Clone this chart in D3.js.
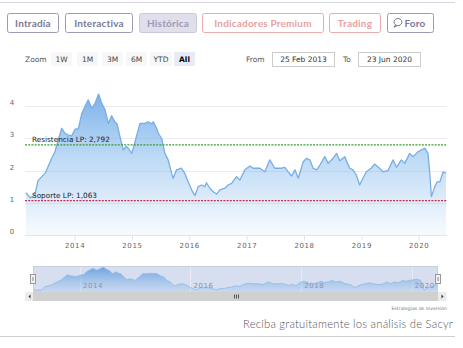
<!DOCTYPE html>
<html>
<head>
<meta charset="utf-8">
<script src="https://cdn.jsdelivr.net/npm/d3@7/dist/d3.min.js"></script>
<style>
  html, body { margin: 0; padding: 0; background: #fff; }
  svg { display: block; }
</style>
</head>
<body>
<svg id="chart" width="463" height="348"></svg>
<script>
// Sacyr closing prices (EUR), Feb 2013 – Jun 2020
const dates = [
  "2013-02-25","2013-03-24","2013-04-23","2013-05-13","2013-06-06","2013-06-27","2013-07-18","2013-08-08",
  "2013-08-29","2013-09-19","2013-10-11","2013-11-01","2013-11-22","2013-12-13","2014-01-04","2014-01-25",
  "2014-02-16","2014-03-08","2014-03-29","2014-04-20","2014-05-11","2014-06-03","2014-06-23","2014-07-14",
  "2014-08-04","2014-08-25","2014-09-15","2014-09-28","2014-10-17","2014-11-07","2014-11-24","2014-12-09",
  "2014-12-31","2015-01-21","2015-02-21","2015-03-25","2015-04-15","2015-05-07","2015-05-17","2015-06-08",
  "2015-06-18","2015-07-09","2015-07-30","2015-08-20","2015-09-11","2015-09-21","2015-10-12","2015-11-13",
  "2015-12-04","2015-12-25","2016-01-16","2016-02-06","2016-02-27","2016-03-19","2016-04-10","2016-04-20",
  "2016-05-11","2016-06-02","2016-06-23","2016-07-14","2016-08-15","2016-09-05","2016-09-27","2016-10-28",
  "2016-11-18","2016-12-20","2017-01-21","2017-02-11","2017-03-26","2017-04-27","2017-05-28","2017-06-29",
  "2017-08-11","2017-09-01","2017-09-22","2017-10-14","2017-11-04","2017-11-25","2017-12-27","2018-01-17",
  "2018-02-07","2018-02-28","2018-03-22","2018-04-12","2018-05-13","2018-06-04","2018-07-05","2018-07-27",
  "2018-08-17","2018-09-17","2018-10-19","2018-11-09","2018-11-30","2018-12-21","2019-01-11","2019-02-02",
  "2019-03-05","2019-03-26","2019-04-27","2019-05-19","2019-06-20","2019-07-22","2019-08-12","2019-09-13",
  "2019-10-04","2019-11-05","2019-11-26","2019-12-28","2020-01-18","2020-02-08","2020-02-19","2020-02-29",
  "2020-03-11","2020-03-22","2020-04-13","2020-04-28","2020-05-15","2020-06-05","2020-06-23"
];
const prices = [
  1.31,1.15,1.24,1.68,1.81,1.91,2.14,2.38,
  2.58,2.95,3.31,3.15,3.10,3.07,3.28,3.30,
  3.77,3.98,4.19,3.93,4.08,4.37,4.08,3.88,
  3.46,3.70,3.50,3.45,3.05,2.64,2.75,2.69,
  2.53,2.89,3.46,3.46,3.51,3.45,3.51,3.30,
  3.15,3.00,2.53,2.33,1.91,1.76,2.02,2.07,
  1.91,1.65,1.40,1.22,1.50,1.55,1.50,1.62,
  1.45,1.34,1.27,1.40,1.45,1.55,1.60,1.81,
  1.70,2.02,2.14,2.07,2.07,1.96,2.33,2.07,
  2.07,2.10,1.96,1.83,2.02,1.76,2.27,2.38,
  2.33,2.07,2.02,2.17,2.43,2.22,2.38,2.53,
  2.30,2.43,2.07,2.02,1.86,1.55,1.76,1.96,
  2.07,2.20,2.07,1.96,2.00,2.33,2.10,2.33,
  2.22,2.53,2.43,2.58,2.64,2.69,2.62,2.53,
  1.96,1.19,1.50,1.65,1.65,1.96,1.91
];
const yTicks = [0, 1, 2, 3, 4];
const xTickYears = [2014, 2015, 2016, 2017, 2018, 2019, 2020];
const navTickYears = [2014, 2016, 2018, 2020];
const resistance = 2.792;
const support = 1.063;
const resistanceLabel = "Resistencia LP: 2,792";
const supportLabel = "Soporte LP: 1,063";
const tabs = ["Intradía", "Interactiva", "Histórica", "Indicadores Premium", "Trading", "Foro"];
const zoomButtons = ["1W", "1M", "3M", "6M", "YTD", "All"];
const rangeFrom = "25 Feb 2013";
const rangeTo = "23 Jun 2020";

const parse = d3.timeParse("%Y-%m-%d");
const series = dates.map((d, i) => ({ date: parse(d), value: prices[i] }));

const svg = d3.select("#chart");
const defs = svg.append("defs");
const uiFont = "Lato, 'Open Sans', sans-serif";
const chartFont = "'DejaVu Sans', Verdana, sans-serif";

// ---- page frame lines
svg.append("line").attr("x1", 0).attr("x2", 455).attr("y1", 2.5).attr("y2", 2.5)
  .attr("stroke", "#d6d4e4").attr("stroke-width", 1);
svg.append("line").attr("x1", 0).attr("x2", 455).attr("y1", 336.5).attr("y2", 336.5)
  .attr("stroke", "#d0d0d0").attr("stroke-width", 1);

// ---- tab buttons
const tabGeom = [[7, 51], [65, 67], [139, 57], [202, 121], [329, 51], [387, 46]];
const tabStyle = [
  { stroke: "#9d9ab6", fill: "#fff", text: "#7c7999" },
  { stroke: "#9d9ab6", fill: "#fff", text: "#7c7999" },
  { stroke: "#c9c8da", fill: "#e0dfeb", text: "#9c99b7" },
  { stroke: "#e6abab", fill: "#fff", text: "#e6a2a2" },
  { stroke: "#e6abab", fill: "#fff", text: "#e6a2a2" },
  { stroke: "#9d9ab6", fill: "#fff", text: "#7c7999" }
];
const tabG = svg.append("g");
tabs.forEach((t, i) => {
  const [x, w] = tabGeom[i];
  const s = tabStyle[i];
  tabG.append("rect").attr("x", x + 0.5).attr("y", 13.5).attr("width", w).attr("height", 19)
    .attr("rx", 2).attr("fill", s.fill).attr("stroke", s.stroke);
  const isForo = t === "Foro";
  tabG.append("text")
    .attr("x", isForo ? x + w / 2 + 5 : x + w / 2 + 0.5).attr("y", 26.5)
    .attr("text-anchor", "middle").attr("font-family", uiFont).attr("font-weight", 700)
    .attr("font-size", 10).attr("letter-spacing", 0.2).attr("fill", s.text).text(t);
  if (isForo) {
    // speech-bubble icon
    const ix = x + 7, iy = 18.5;
    tabG.append("path")
      .attr("d", `M${ix + 4},${iy} a4,3.6 0 1,1 -0.1,0 Z M${ix + 1.5},${iy + 6.2} l-1.5,2.6 l3,-1.6`)
      .attr("fill", "none").attr("stroke", s.text).attr("stroke-width", 1);
  }
});

// ---- range selector row
const rs = svg.append("g").attr("font-family", chartFont);
rs.append("text").attr("x", 25).attr("y", 62).attr("font-size", 7.5).attr("fill", "#555").text("Zoom");
const zoomX = [51, 77, 102, 126, 150, 174];
const zoomW = [21, 21, 21, 21, 22, 21];
zoomButtons.forEach((b, i) => {
  const active = b === "All";
  rs.append("rect").attr("x", zoomX[i]).attr("y", 52).attr("width", zoomW[i]).attr("height", 14)
    .attr("rx", 1).attr("fill", active ? "#e6ebf5" : "#f7f7f7");
  rs.append("text").attr("x", zoomX[i] + zoomW[i] / 2).attr("y", 62)
    .attr("text-anchor", "middle").attr("font-size", 7.5)
    .attr("font-weight", active ? 700 : 400)
    .attr("fill", active ? "#000" : "#444").text(b);
});
rs.append("text").attr("x", 246).attr("y", 62).attr("font-size", 7.5).attr("fill", "#555").text("From");
rs.append("rect").attr("x", 272.5).attr("y", 52.5).attr("width", 62).attr("height", 14)
  .attr("fill", "#fff").attr("stroke", "#cccccc");
rs.append("text").attr("x", 303.5).attr("y", 62).attr("text-anchor", "middle").attr("font-size", 7.5)
  .attr("fill", "#333").text(rangeFrom);
rs.append("text").attr("x", 343).attr("y", 62).attr("font-size", 7.5).attr("fill", "#555").text("To");
rs.append("rect").attr("x", 358.5).attr("y", 52.5).attr("width", 62).attr("height", 14)
  .attr("fill", "#fff").attr("stroke", "#cccccc");
rs.append("text").attr("x", 389.5).attr("y", 62).attr("text-anchor", "middle").attr("font-size", 7.5)
  .attr("fill", "#333").text(rangeTo);

// ---- main plot
const plot = { left: 25.9, right: 446, top: 106, bottom: 235 };
const xDomain = [parse("2013-02-25"), parse("2020-06-23")];
const x = d3.scaleTime().domain(xDomain).range([plot.left, plot.right]);
const y = d3.scaleLinear().domain([0, 4]).range([plot.bottom, plot.top]);

const g = svg.append("g");

// horizontal gridlines
g.selectAll("line.grid").data(yTicks).join("line")
  .attr("x1", 25).attr("x2", 447)
  .attr("y1", d => Math.round(y(d)) + 0.5).attr("y2", d => Math.round(y(d)) + 0.5)
  .attr("stroke", "#ececec").attr("stroke-width", 1);

// y labels
g.selectAll("text.ylab").data(yTicks).join("text")
  .attr("x", 12).attr("y", d => y(d) - 1)
  .attr("text-anchor", "middle").attr("font-family", chartFont).attr("font-size", 7)
  .attr("fill", "#666").text(d => d);

// area fill
const grad = defs.append("linearGradient").attr("id", "areaGrad")
  .attr("x1", 0).attr("y1", 0).attr("x2", 0).attr("y2", 1);
grad.append("stop").attr("offset", 0).attr("stop-color", "#6fa8e6").attr("stop-opacity", 0.9);
grad.append("stop").attr("offset", 0.45).attr("stop-color", "#7cb5ec").attr("stop-opacity", 0.5);
grad.append("stop").attr("offset", 1).attr("stop-color", "#7cb5ec").attr("stop-opacity", 0.06);

const area = d3.area().x(d => x(d.date)).y0(plot.bottom).y1(d => y(d.value));
const line = d3.line().x(d => x(d.date)).y(d => y(d.value));
g.append("path").datum(series).attr("d", area).attr("fill", "url(#areaGrad)");
g.append("path").datum(series).attr("d", line)
  .attr("fill", "none").attr("stroke", "#78aee3").attr("stroke-width", 1.3)
  .attr("stroke-linejoin", "round");

// x axis
const xTicks = xTickYears.map(yr => new Date(yr, 0, 1));
const xAxis = d3.axisBottom(x).tickValues(xTicks).tickFormat(d3.timeFormat("%Y"))
  .tickSize(5).tickPadding(3);
const xa = g.append("g").attr("transform", `translate(0,${plot.bottom + 0.5})`).call(xAxis);
xa.select(".domain").attr("d", `M25,0H447`).attr("stroke", "#dfe5f0");
xa.selectAll(".tick line").attr("stroke", "#dfe5f0");
xa.selectAll(".tick text").attr("font-family", chartFont).attr("font-size", 7)
  .attr("fill", "#666").attr("letter-spacing", 0.6);

// support / resistance
function level(val, color, label) {
  g.append("line").attr("x1", 25).attr("x2", 447)
    .attr("y1", y(val)).attr("y2", y(val))
    .attr("stroke", color).attr("stroke-width", 1.2).attr("stroke-dasharray", "2,1.2");
  g.append("text").attr("x", 32).attr("y", y(val) - 2.5)
    .attr("font-family", chartFont).attr("font-size", 7.3).attr("fill", "#222")
    .text(label);
}
level(resistance, "#3d9a3d", resistanceLabel);
level(support, "#c0304d", supportLabel);

// ---- navigator
const nav = { left: 33, right: 438, top: 266, bottom: 292 };
const nx = d3.scaleTime().domain(xDomain).range([nav.left, nav.right]);
const ny = d3.scaleLinear().domain(d3.extent(prices)).range([nav.bottom - 1.5, nav.top + 1]);
const ng = svg.append("g");

const navGrad = defs.append("linearGradient").attr("id", "navGrad")
  .attr("x1", 0).attr("y1", 0).attr("x2", 0).attr("y2", 1);
navGrad.append("stop").attr("offset", 0).attr("stop-color", "#5d97dc").attr("stop-opacity", 0.85);
navGrad.append("stop").attr("offset", 1).attr("stop-color", "#7cb5ec").attr("stop-opacity", 0.15);

ng.append("rect").attr("x", nav.left).attr("y", nav.top).attr("width", nav.right - nav.left)
  .attr("height", nav.bottom - nav.top).attr("fill", "#d6deef");
const navTicks = navTickYears.map(yr => new Date(yr, 0, 1));
ng.selectAll("line.ngrid").data(navTicks).join("line")
  .attr("x1", d => Math.round(nx(d)) + 0.5).attr("x2", d => Math.round(nx(d)) + 0.5)
  .attr("y1", nav.top).attr("y2", nav.bottom).attr("stroke", "#e6ebf5");
ng.append("path").datum(series)
  .attr("d", d3.area().x(d => nx(d.date)).y0(nav.bottom).y1(d => ny(d.value)))
  .attr("fill", "url(#navGrad)");
ng.append("path").datum(series)
  .attr("d", d3.line().x(d => nx(d.date)).y(d => ny(d.value)))
  .attr("fill", "none").attr("stroke", "#8fbbe8").attr("stroke-width", 0.8);
ng.selectAll("text.nlab").data(navTicks).join("text")
  .attr("x", d => nx(d) + 3).attr("y", 288)
  .attr("font-family", chartFont).attr("font-size", 7).attr("fill", "#8a93a8")
  .attr("letter-spacing", 0.6).text(d3.timeFormat("%Y"));
ng.append("rect").attr("x", nav.left + 0.5).attr("y", nav.top + 0.5)
  .attr("width", nav.right - nav.left - 1).attr("height", nav.bottom - nav.top)
  .attr("fill", "none").attr("stroke", "#c8cfdf").attr("stroke-width", 1);
// handles
[nav.left, nav.right].forEach(hx => {
  ng.append("rect").attr("x", hx - 2.5).attr("y", 274.5).attr("width", 5).attr("height", 9)
    .attr("fill", "#f2f2f2").attr("stroke", "#999");
  ng.append("line").attr("x1", hx - 0.5).attr("x2", hx - 0.5).attr("y1", 277).attr("y2", 281)
    .attr("stroke", "#999").attr("stroke-width", 0.6);
  ng.append("line").attr("x1", hx + 0.5).attr("x2", hx + 0.5).attr("y1", 277).attr("y2", 281)
    .attr("stroke", "#999").attr("stroke-width", 0.6);
});

// scrollbar
const sb = svg.append("g");
sb.append("rect").attr("x", 25).attr("y", 292).attr("width", 422).attr("height", 9).attr("fill", "#f2f2f2");
sb.append("rect").attr("x", 33).attr("y", 292).attr("width", 405).attr("height", 9).attr("fill", "#d0d0d0");
[[25, "M30.5,294.5 L28.5,296.5 L30.5,298.5 Z"], [438, "M441.5,294.5 L443.5,296.5 L441.5,298.5 Z"]]
  .forEach(([bx, tri]) => {
    sb.append("rect").attr("x", bx).attr("y", 292).attr("width", 8).attr("height", 9).attr("fill", "#ebebeb");
    sb.append("path").attr("d", tri).attr("fill", "#333");
  });
[-2, 0, 2].forEach(o => {
  sb.append("line").attr("x1", 236 + o + 0.5).attr("x2", 236 + o + 0.5).attr("y1", 294.5).attr("y2", 298.5)
    .attr("stroke", "#333").attr("stroke-width", 0.8);
});

// credits & footer
svg.append("text").attr("x", 447).attr("y", 310).attr("text-anchor", "end")
  .attr("font-family", chartFont).attr("font-size", 4.6).attr("fill", "#777").text("Estrategias de Inversión");
svg.append("text").attr("x", 453).attr("y", 328).attr("text-anchor", "end")
  .attr("font-family", uiFont).attr("font-weight", 300).attr("font-size", 11.2)
  .attr("letter-spacing", 0.25).attr("fill", "#555")
  .text("Reciba gratuitamente los análisis de Sacyr");
</script>
</body>
</html>
